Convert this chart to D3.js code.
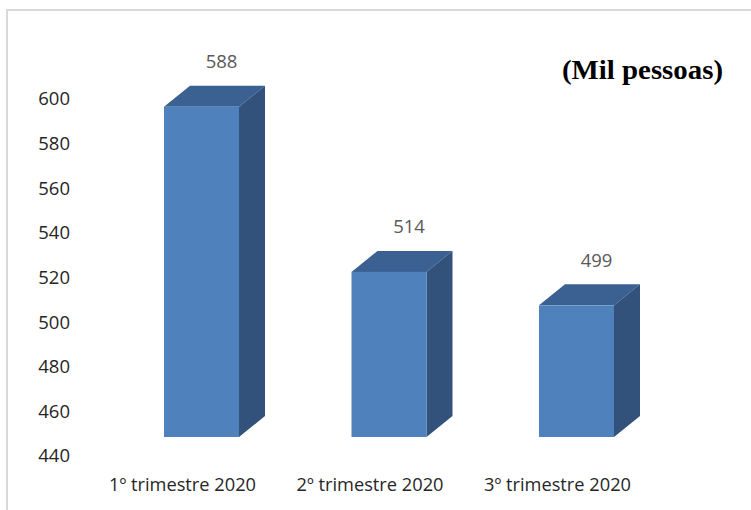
<!DOCTYPE html>
<html>
<head>
<meta charset="utf-8">
<script src="https://cdn.jsdelivr.net/npm/d3@7/dist/d3.min.js"></script>
<style>
  html, body { margin: 0; padding: 0; background: #fff; }
  svg { display: block; }
</style>
</head>
<body>
<svg id="chart" width="751" height="510"></svg>
<script>
// Pessoas por trimestre (mil)
const categories = ["1º trimestre 2020", "2º trimestre 2020", "3º trimestre 2020"];
const values = [588, 514, 499];
const yTicks = [440, 460, 480, 500, 520, 540, 560, 580, 600];
const unitLabel = "(Mil pessoas)";

const svg = d3.select("#chart");

// outer frame
svg.append("line").attr("x1", 6).attr("x2", 751).attr("y1", 10).attr("y2", 10)
  .attr("stroke", "#d9d9d9").attr("stroke-width", 2);
svg.append("line").attr("x1", 7).attr("x2", 7).attr("y1", 9).attr("y2", 510)
  .attr("stroke", "#d9d9d9").attr("stroke-width", 2);

const y = d3.scaleLinear().domain([440, 600]).range([437, 80]);
const x = d3.scaleBand().domain(categories).range([107.75, 670.25])
  .paddingInner(0.6).paddingOuter(0.3);

// 3D depth offset of each bar
const dx = 26, dy = 21;

// value axis labels
const yAxis = d3.axisLeft(y).tickValues(yTicks).tickSize(0).tickPadding(0);
const ag = svg.append("g").attr("transform", "translate(70,19)").call(yAxis);
ag.select(".domain").remove();
ag.selectAll("text")
  .attr("font-family", "'Open Sans', sans-serif")
  .attr("font-size", 18.5)
  .attr("fill", "#262626");

// bars
const bars = svg.append("g").selectAll("g").data(values).join("g");
bars.each(function(v, i) {
  const g = d3.select(this);
  const x0 = x(categories[i]), x1 = x0 + x.bandwidth();
  const yt = y(v), yb = y(440);
  // top face
  g.append("path")
    .attr("d", `M${x0},${yt}L${x0 + dx},${yt - dy}L${x1 + dx},${yt - dy}L${x1},${yt}Z`)
    .attr("fill", "#3b6192");
  // side face
  g.append("path")
    .attr("d", `M${x1},${yt}L${x1 + dx},${yt - dy}L${x1 + dx},${yb - dy}L${x1},${yb}Z`)
    .attr("fill", "#32527c");
  // front face
  g.append("rect")
    .attr("x", x0).attr("y", yt).attr("width", x1 - x0).attr("height", yb - yt)
    .attr("fill", "#4f81bd");
});

// value labels
svg.append("g").selectAll("text").data(values).join("text")
  .attr("x", (v, i) => x(categories[i]) + x.bandwidth() / 2 + 20)
  .attr("y", v => y(v) - 38.5)
  .attr("text-anchor", "middle")
  .attr("font-family", "'Open Sans', sans-serif")
  .attr("font-size", 18.5)
  .attr("fill", "#595959")
  .text(v => v);

// category labels
svg.append("g").selectAll("text").data(categories).join("text")
  .attr("x", d => x(d) + x.bandwidth() / 2 - 19)
  .attr("y", 491)
  .attr("text-anchor", "middle")
  .attr("font-family", "'Open Sans', sans-serif")
  .attr("font-size", 18.5)
  .attr("textLength", 147)
  .attr("lengthAdjust", "spacingAndGlyphs")
  .attr("fill", "#262626")
  .text(d => d);

// unit label
svg.append("text")
  .attr("x", 562).attr("y", 79)
  .attr("font-family", "'Liberation Serif', 'Times New Roman', serif")
  .attr("font-weight", "bold")
  .attr("font-size", 27)
  .attr("textLength", 161)
  .attr("lengthAdjust", "spacingAndGlyphs")
  .attr("fill", "#000")
  .text(unitLabel);
</script>
</body>
</html>
